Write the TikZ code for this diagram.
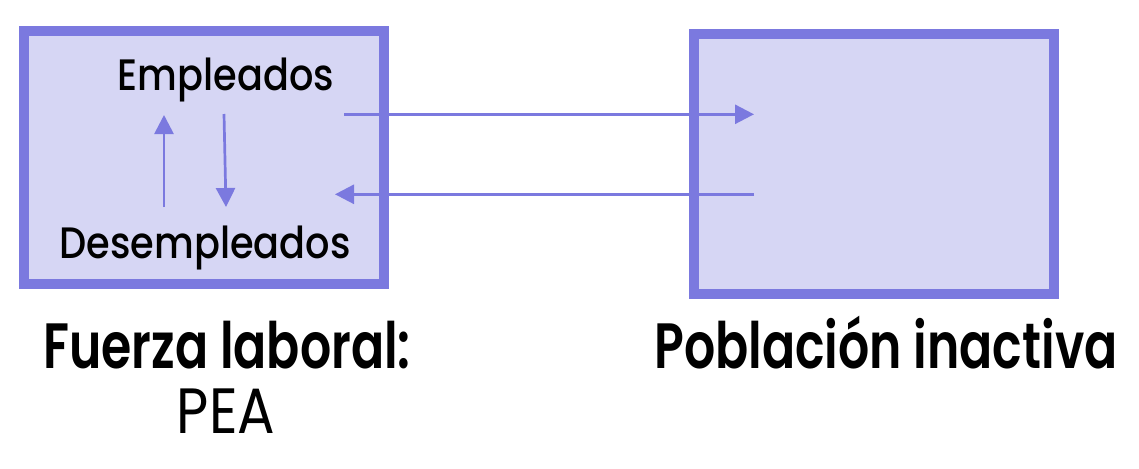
\documentclass[tikz,border=0pt]{standalone}
\usepackage{fontspec}
\setmainfont{Poppins}
\newfontfamily\innerfnt{Poppins}[UprightFont=* Medium, FakeStretch=0.87]
\newfontfamily\outerfnt{Poppins}[UprightFont=* SemiBold, FakeStretch=0.765]
\newfontfamily\plainfnt{Poppins}[FakeStretch=0.87]
\usetikzlibrary{arrows.meta}
\definecolor{bord}{RGB}{123,121,223}
\definecolor{boxfill}{RGB}{214,214,244}
\tikzset{
  panel/.style={draw=bord, fill=boxfill, line width=10pt, minimum width=360pt, inner sep=0pt, outer sep=0pt},
  flow/.style={draw=bord, line width=2.7pt, -{Triangle[length=19pt,width=19pt]}},
  inlabel/.style={anchor=base, inner sep=0pt, font=\innerfnt\fontsize{44}{50}\selectfont},
  outlabel/.style={anchor=base, inner sep=0pt, font=\outerfnt\fontsize{64}{70}\selectfont},
  plainlabel/.style={anchor=base, inner sep=0pt, font=\plainfnt\fontsize{64}{70}\selectfont}
}
\begin{document}
\begin{tikzpicture}[x=1pt,y=-1pt]
\useasboundingbox (0,0) rectangle (1139,468);
\node[panel, minimum height=253pt] (pea) at (204,157.5) {};
\node[panel, minimum height=260pt] (inact) at (874,164) {};
\node[inlabel] (emp) at (226,91) {Empleados};
\node[inlabel] (desemp) at (205,258) {Desempleados};
\node[outlabel] (fuerza) at (227,368) {Fuerza laboral:};
\node[plainlabel] (peatxt) at (226,433) {PEA};
\node[outlabel] (pob) at (886,368) {Población inactiva};
\coordinate (upS) at (164,207);
\coordinate (upE) at (164,115);
\coordinate (dnS) at (224,114);
\coordinate (dnE) at (226,207);
\coordinate (r1S) at (344,114.3);
\coordinate (r1E) at (754,114.3);
\coordinate (r2S) at (754,194.3);
\coordinate (r2E) at (335,194.3);
\draw[flow] (upS) -- (upE);
\draw[flow] (dnS) -- (dnE);
\draw[flow] (r1S) -- (r1E);
\draw[flow] (r2S) -- (r2E);
\end{tikzpicture}
\end{document}
